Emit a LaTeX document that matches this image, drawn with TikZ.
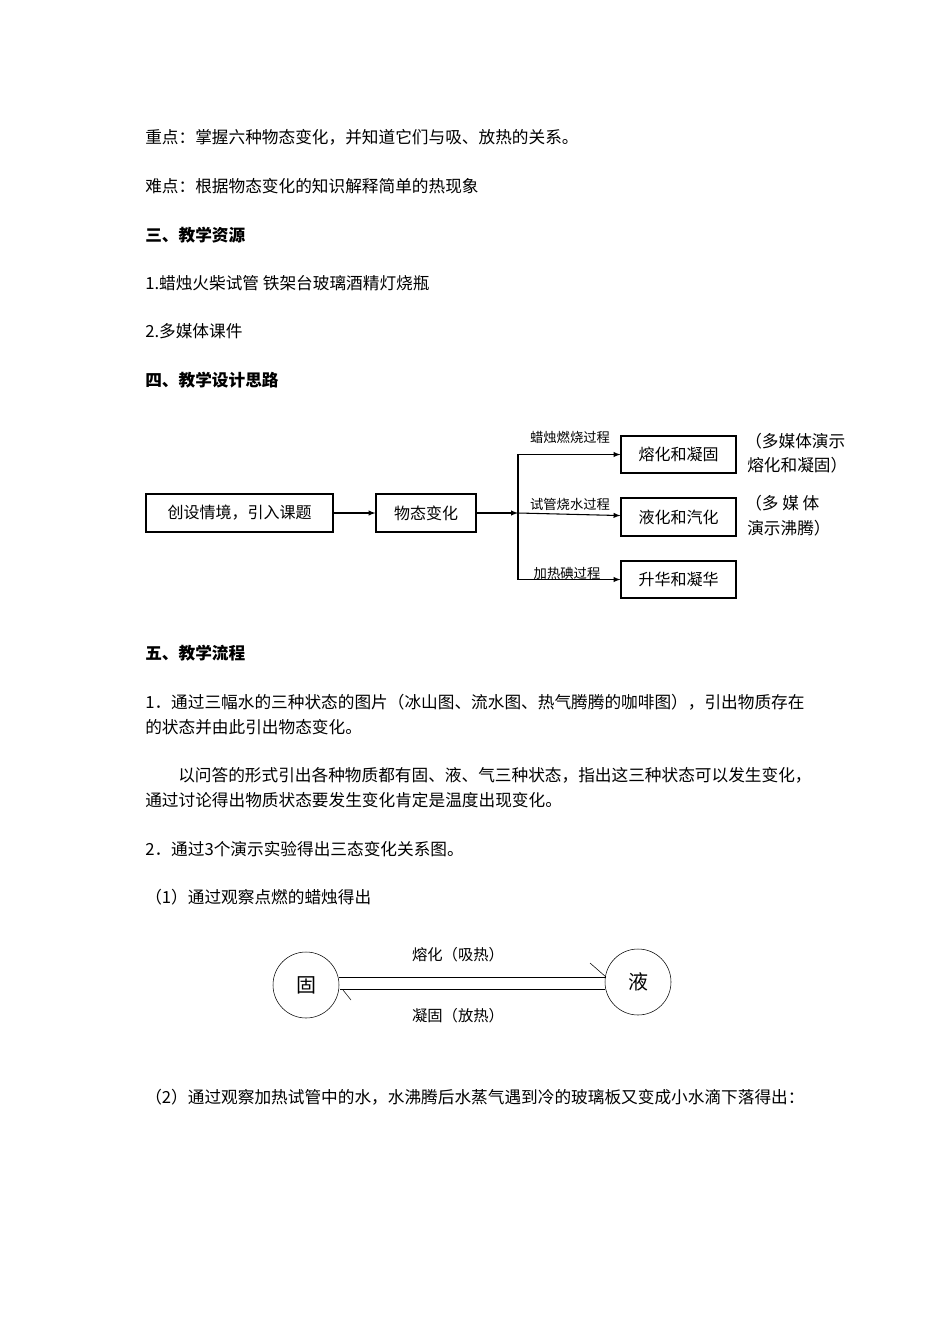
\documentclass[tikz,border=0pt]{standalone}
\usepackage{fontspec}
\setmainfont{Noto Sans CJK SC}
\begin{document}
\begin{tikzpicture}[x=0.75pt,y=-0.75pt,
  txt/.style={anchor=west,inner sep=0pt,font=\fontsize{12.5}{15}\selectfont},
  sm/.style={inner sep=0pt,font=\fontsize{10}{13}\selectfont},
  bx/.style={draw,line width=0.8pt,inner sep=0pt,font=\fontsize{12}{15}\selectfont},
  circ/.style={draw,circle,minimum size=66pt*0.75,inner sep=0pt,font=\fontsize{15}{18}\selectfont},
  ar/.style={-latex,line width=0.8pt}]
\useasboundingbox (0,0) rectangle (950,1344);
\node[txt] (t1) at (145,137) {重点：掌握六种物态变化，并知道它们与吸、放热的关系。};
\node[txt] (t2) at (145,186) {难点：根据物态变化的知识解释简单的热现象};
\node[txt] (t3) at (145,235) {\textbf{三、教学资源}};
\node[txt] (t4) at (145,283) {1.蜡烛火柴试管 铁架台玻璃酒精灯烧瓶};
\node[txt] (t5) at (145,331) {2.多媒体课件};
\node[txt] (t6) at (145,380) {\textbf{四、教学设计思路}};
% flowchart
\node[bx,minimum width=187*0.75pt,minimum height=38*0.75pt] (a) at (239.5,513) {创设情境，引入课题};
\node[bx,minimum width=100*0.75pt,minimum height=38*0.75pt] (b) at (426,513) {物态变化};
\coordinate (br) at (518,513);
\node[bx,minimum width=115*0.75pt,minimum height=37*0.75pt] (c1) at (678.5,454.5) {熔化和凝固};
\node[bx,minimum width=115*0.75pt,minimum height=38*0.75pt] (c2) at (678.5,517) {液化和汽化};
\node[bx,minimum width=115*0.75pt,minimum height=37*0.75pt] (c3) at (678.5,579.5) {升华和凝华};
\draw[ar] (a) -- (b);
\draw[ar] (b) -- (br);
\draw[ar] (br) |- (c1);
\draw[ar] (br) -- (c2);
\draw[ar] (br) |- (c3);
\node[sm] (l1) at (570,437) {蜡烛燃烧过程};
\node[sm] (l2) at (570,504) {试管烧水过程};
\node[sm] (l3) at (567,573) {加热碘过程};
\node[txt,font=\fontsize{12.5}{15}\selectfont] (n1) at (745,441) {（多媒体演示};
\node[txt,font=\fontsize{12.5}{15}\selectfont] (n2) at (747,465) {熔化和凝固）};
\node[txt,font=\fontsize{12.5}{15}\selectfont] (n3) at (745,503) {（多 媒 体};
\node[txt,font=\fontsize{12.5}{15}\selectfont] (n4) at (747,528) {演示沸腾）};
\node[txt] (t7) at (145,653) {\textbf{五、教学流程}};
\node[txt] (t8) at (145,702) {1．通过三幅水的三种状态的图片（冰山图、流水图、热气腾腾的咖啡图），引出物质存在};
\node[txt] (t9) at (145,727) {的状态并由此引出物态变化。};
\node[txt] (t10) at (178,775) {以问答的形式引出各种物质都有固、液、气三种状态，指出这三种状态可以发生变化，};
\node[txt] (t11) at (145,800) {通过讨论得出物质状态要发生变化肯定是温度出现变化。};
\node[txt] (t12) at (145,849) {2．通过3个演示实验得出三态变化关系图。};
\node[txt] (t13) at (145,897) {（1）通过观察点燃的蜡烛得出};
% circles
\node[circ] (g) at (306,985) {固};
\node[circ] (y) at (638,982) {液};
\draw (g.east |- 0,977) -- (606,977);
\draw (340,989) -- (605,989);
\draw (590,963) -- (606,977);
\draw (343,990) -- (351,1000);
\node[sm,font=\fontsize{11.5}{14}\selectfont] (m1) at (458,955) {熔化（吸热）};
\node[sm,font=\fontsize{11.5}{14}\selectfont] (m2) at (458,1016) {凝固（放热）};
\node[txt] (t14) at (145,1097) {（2）通过观察加热试管中的水，水沸腾后水蒸气遇到冷的玻璃板又变成小水滴下落得出：};
\end{tikzpicture}
\end{document}
